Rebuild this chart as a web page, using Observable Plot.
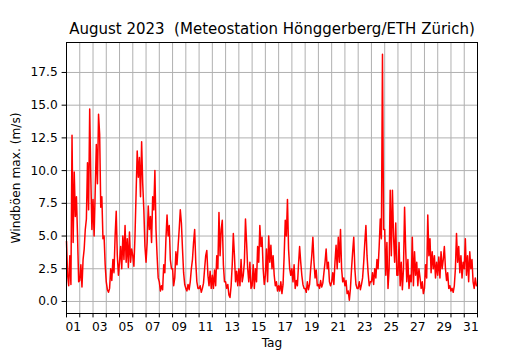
<!DOCTYPE html>
<html>
<head>
<meta charset="utf-8">
<script src="https://cdn.jsdelivr.net/npm/d3@7"></script>
<script src="https://cdn.jsdelivr.net/npm/@observablehq/plot@0.6"></script>
<style>
  html, body { margin: 0; padding: 0; background: white; }
</style>
</head>
<body>
<div id="chart"></div>
<script>
// Max. wind gusts (m/s), 2-hourly estimates, one row per day
const gustsWeek1 = [
  4.6, 2.0, 1.2, 3.5, 1.3, 12.7, 4.5, 9.9, 6.5, 8.0, 5.0, 1.5,   // 01
  1.6, 2.8, 1.1, 3.2, 4.0, 5.5, 6.3, 10.6, 7.0, 14.7, 9.5, 5.5,  // 02
  7.8, 5.0, 8.5, 12.0, 9.0, 14.3, 12.8, 7.2, 8.0, 4.8, 5.0, 2.8, // 03
  1.5, 0.9, 0.7, 1.0, 2.5, 1.6, 3.2, 2.2, 5.0, 6.9, 3.5, 2.0,    // 04
  3.0, 4.2, 2.5, 5.0, 3.2, 5.8, 3.0, 4.8, 2.6, 5.3, 3.0, 4.0,    // 05
  3.5, 2.7, 5.0, 8.3, 11.5, 9.5, 11.0, 8.0, 12.2, 9.0, 7.0, 4.2, // 06
  3.0, 4.5, 7.3, 5.5, 6.5, 4.5, 8.0, 7.0, 10.0, 5.5, 3.5, 1.8    // 07
];
const gustsWeek2 = [
  1.5, 0.8, 1.2, 0.9, 2.8, 2.2, 4.8, 6.6, 5.0, 5.8, 3.2, 2.5,    // 08
  2.5, 1.2, 1.8, 3.8, 2.8, 4.2, 5.5, 7.0, 6.0, 4.0, 2.2, 1.3,    // 09
  1.0, 0.8, 1.3, 0.9, 1.5, 2.5, 3.2, 4.5, 5.5, 3.0, 1.5, 1.0,    // 10
  1.0, 1.2, 0.7, 1.0, 1.4, 2.5, 3.5, 3.9, 2.0, 1.2, 2.3, 1.0,    // 11
  2.0, 1.0, 2.4, 1.2, 3.5, 2.5, 6.8, 3.5, 5.5, 6.2, 2.8, 1.5,    // 12
  1.5, 1.0, 1.3, 0.5, 0.3, 1.2, 2.8, 5.2, 3.5, 1.5, 2.3, 1.2,    // 13
  2.5, 1.2, 3.2, 1.5, 2.0, 3.0, 6.3, 4.5, 2.5, 1.5, 3.0, 1.0     // 14
];
const gustsWeek3 = [
  1.2, 2.8, 1.0, 2.5, 1.5, 4.2, 3.0, 5.8, 4.2, 4.9, 2.5, 1.3,    // 15
  2.0, 4.0, 1.5, 5.0, 3.0, 4.3, 2.5, 3.5, 2.0, 1.2, 1.5, 0.8,    // 16
  1.2, 0.8, 1.5, 0.6, 1.3, 3.5, 6.2, 5.0, 7.8, 4.0, 2.5, 2.0,    // 17
  2.5, 1.5, 2.8, 1.0, 1.6, 1.2, 2.8, 4.2, 3.0, 2.0, 1.3, 1.0,    // 18
  1.0, 0.7, 1.5, 0.9, 1.3, 2.5, 3.5, 4.9, 3.0, 1.8, 2.4, 1.2,    // 19
  1.3, 1.0, 1.6, 1.1, 1.4, 2.2, 3.0, 4.0, 2.5, 3.0, 1.5, 1.2,    // 20
  1.5, 2.2, 1.3, 3.0, 4.3, 2.5, 4.9, 3.0, 5.5, 2.5, 1.5, 1.8     // 21
];
const gustsWeek4 = [
  1.2, 1.6, 0.6, 0.8, 0.1, 1.0, 2.5, 3.8, 4.9, 2.5, 1.3, 1.0,    // 22
  1.0, 1.5, 0.9, 1.3, 1.8, 3.0, 4.5, 5.8, 3.5, 2.2, 1.2, 1.5,    // 23
  1.5, 2.2, 1.3, 2.5, 1.8, 3.2, 2.5, 4.2, 6.3, 4.8, 18.9, 5.5,   // 24
  5.5, 2.0, 4.5, 1.0, 2.5, 8.5, 3.5, 8.5, 5.0, 3.0, 6.0, 2.0,    // 25
  2.0, 4.5, 1.2, 3.0, 0.9, 2.5, 7.2, 4.0, 1.5, 3.2, 1.0, 2.0,    // 26
  1.5, 4.9, 1.2, 3.8, 2.0, 3.0, 1.2, 2.5, 1.8, 1.0, 1.5, 0.6,    // 27
  1.0, 2.8, 1.8, 6.6, 3.5, 4.8, 2.2, 3.8, 2.5, 3.5, 1.8, 3.0     // 28
];
const gustsWeek5 = [
  2.0, 3.4, 1.8, 3.8, 2.5, 3.2, 4.2, 2.5, 1.6, 2.2, 1.0, 1.2,    // 29
  0.8, 1.0, 0.7, 1.2, 2.5, 5.2, 3.0, 4.2, 2.2, 3.5, 1.8, 3.0,    // 30
  2.5, 4.8, 2.0, 3.5, 1.5, 3.8, 2.5, 3.2, 1.5, 1.0, 1.8, 1.2     // 31
];
const dayLabels = ["01","03","05","07","09","11","13","15","17","19","21","23","25","27","29","31"];
const yTicks = [0, 2.5, 5, 7.5, 10, 12.5, 15, 17.5];
const titleText = "August 2023  (Meteostation Hönggerberg/ETH Zürich)";
const xLabel = "Tag";
const yLabel = "Windböen max. (m/s)";

const gusts = [...gustsWeek1, ...gustsWeek2, ...gustsWeek3, ...gustsWeek4, ...gustsWeek5];
const start = Date.UTC(2023, 7, 1);
const stepMs = 2 * 3600 * 1000;
const series = gusts.map((v, i) => ({t: new Date(start + i * stepMs), v}));
const end = new Date(Date.UTC(2023, 8, 1));
const midnights = d3.utcDay.range(new Date(start), new Date(Date.UTC(2023, 8, 1, 1)));
const noons = dayLabels.map(s => new Date(Date.UTC(2023, 7, +s, 12)));

const font = "DejaVu Sans, Liberation Sans, sans-serif";
const chart = Plot.plot({
  width: 530,
  height: 350,
  marginLeft: 66,
  marginRight: 53,
  marginTop: 42,
  marginBottom: 37,
  style: {fontFamily: font, fontSize: "12.2px", background: "white", color: "black"},
  x: {type: "utc", domain: [new Date(start), end], axis: null},
  y: {domain: [-0.92, 19.79], axis: null},
  marks: [
    Plot.gridX(midnights, {stroke: "#b0b0b0", strokeOpacity: 1, strokeWidth: 1}),
    Plot.gridY(yTicks, {stroke: "#b0b0b0", strokeOpacity: 1, strokeWidth: 1}),
    Plot.line(series, {x: "t", y: "v", stroke: "red", strokeWidth: 1.5}),
    Plot.frame({stroke: "black", strokeWidth: 1}),
    Plot.axisX(midnights, {tickSize: 4.4, tickFormat: () => "", label: null, stroke: "black"}),
    Plot.axisX(noons, {tickSize: 0, tickPadding: 8.5, tickFormat: d3.utcFormat("%d"), label: null, fontSize: 12.2, fill: "#000"}),
    Plot.axisY(yTicks, {tickSize: 4.4, tickPadding: 4.4, tickFormat: d3.format(".1f"), label: null, fontSize: 12.2, stroke: "black", fill: "#000"}),
    Plot.text([xLabel], {frameAnchor: "bottom", dy: 30, lineAnchor: "middle", textAnchor: "middle", fontSize: 12.2, fill: "#000"}),
    Plot.text([yLabel], {frameAnchor: "left", dx: -50, rotate: -90, lineAnchor: "middle", textAnchor: "middle", fontSize: 12.2, fill: "#000"}),
    Plot.text([titleText], {frameAnchor: "top", dy: -13, lineAnchor: "middle", textAnchor: "middle", fontSize: 15, fill: "#000"})
  ]
});
document.getElementById("chart").appendChild(chart);
</script>
</body>
</html>
